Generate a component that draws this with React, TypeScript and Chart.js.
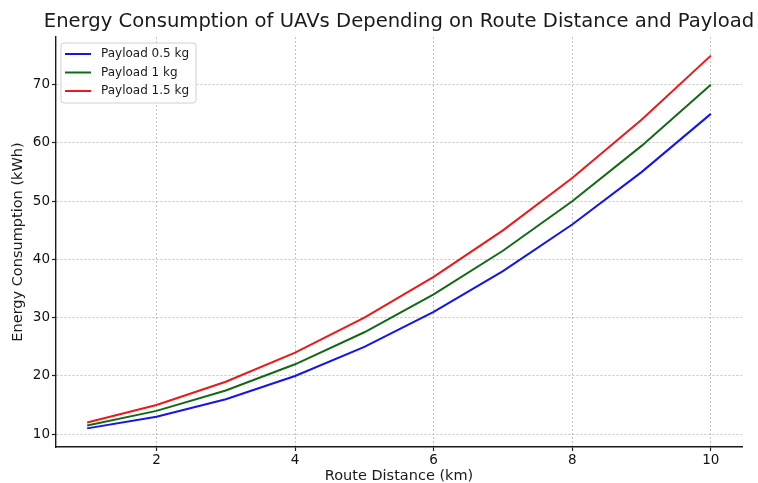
import React, { useEffect, useRef } from 'react';
import { Chart, registerables } from 'chart.js';

Chart.register(...registerables);

const chartTitle = 'Energy Consumption of UAVs Depending on Route Distance and Payload';
const xTitle = 'Route Distance (km)';
const yTitle = 'Energy Consumption (kWh)';
const distances = [1, 2, 3, 4, 5, 6, 7, 8, 9, 10];
const payload05 = [11, 13, 16, 20, 25, 31, 38, 46, 55, 65];
const payload1 = [11.5, 14, 17.5, 22, 27.5, 34, 41.5, 50, 59.5, 70];
const payload15 = [12, 15, 19, 24, 30, 37, 45, 54, 64, 75];
const seriesLabels = ['Payload 0.5 kg', 'Payload 1 kg', 'Payload 1.5 kg'];
const seriesColors = ['rgb(20,20,235)', 'rgb(20,105,20)', 'rgb(235,25,25)'];
const xTicks = [2, 4, 6, 8, 10];
const yTicks = [10, 20, 30, 40, 50, 60, 70];

const FONT = "'DejaVu Sans', sans-serif";

const titlePlugin = {
  id: 'mplTitle',
  afterDraw(chart: any) {
    const { ctx, chartArea } = chart;
    ctx.save();
    ctx.font = `19.6px ${FONT}`;
    ctx.fillStyle = '#1a1a1a';
    ctx.textAlign = 'center';
    ctx.textBaseline = 'middle';
    ctx.fillText(chartTitle, (chartArea.left + chartArea.right) / 2, 22);
    ctx.restore();
  },
};

const legendPlugin = {
  id: 'mplLegend',
  afterDraw(chart: any) {
    const { ctx, chartArea } = chart;
    const x0 = chartArea.left + 5;
    const y0 = chartArea.top + 6;
    const w = 135;
    const h = 60;
    ctx.save();
    ctx.beginPath();
    const r = 3;
    ctx.moveTo(x0 + r, y0);
    ctx.lineTo(x0 + w - r, y0);
    ctx.quadraticCurveTo(x0 + w, y0, x0 + w, y0 + r);
    ctx.lineTo(x0 + w, y0 + h - r);
    ctx.quadraticCurveTo(x0 + w, y0 + h, x0 + w - r, y0 + h);
    ctx.lineTo(x0 + r, y0 + h);
    ctx.quadraticCurveTo(x0, y0 + h, x0, y0 + h - r);
    ctx.lineTo(x0, y0 + r);
    ctx.quadraticCurveTo(x0, y0, x0 + r, y0);
    ctx.closePath();
    ctx.fillStyle = 'rgba(255,255,255,0.85)';
    ctx.fill();
    ctx.strokeStyle = '#d0d0d0';
    ctx.lineWidth = 1;
    ctx.stroke();
    ctx.font = `12px ${FONT}`;
    ctx.textAlign = 'left';
    ctx.textBaseline = 'middle';
    chart.data.datasets.forEach((ds: any, i: number) => {
      const y = y0 + 11 + i * 18.5;
      ctx.beginPath();
      ctx.moveTo(x0 + 4, y);
      ctx.lineTo(x0 + 30, y);
      ctx.strokeStyle = ds.borderColor;
      ctx.lineWidth = 2;
      ctx.stroke();
      ctx.fillStyle = '#1a1a1a';
      ctx.fillText(ds.label, x0 + 40, y);
    });
    ctx.restore();
  },
};

export default function App() {
  const ref = useRef<HTMLCanvasElement | null>(null);

  useEffect(() => {
    if (!ref.current) return;
    const series = [payload05, payload1, payload15];
    const chart = new Chart(ref.current, {
      type: 'line',
      data: {
        datasets: series.map((vals, i) => ({
          label: seriesLabels[i],
          data: distances.map((d, j) => ({ x: d, y: vals[j] })),
          borderColor: seriesColors[i],
          backgroundColor: seriesColors[i],
          borderWidth: 2,
          pointRadius: 0,
          tension: 0,
          fill: false,
        })),
      },
      options: {
        animation: false,
        responsive: false,
        maintainAspectRatio: false,
        devicePixelRatio: 1,
        layout: { padding: { left: 10, right: 16, top: 37, bottom: 0 } },
        plugins: {
          legend: { display: false },
          title: { display: false },
          tooltip: { enabled: false },
        },
        scales: {
          x: {
            type: 'linear',
            min: 0.55,
            max: 10.45,
            afterFit: (s: any) => { s.height = 36; },
            afterBuildTicks: (s: any) => { s.ticks = xTicks.map((v) => ({ value: v })); },
            grid: {
              color: '#c4c4c4',
              lineWidth: 1,
              tickColor: '#222',
              tickLength: 4,
              tickWidth: 1.2,
              tickBorderDash: [],
            },
            border: { display: true, color: '#1a1a1a', width: 1.4, dash: [2, 2] },
            ticks: {
              color: '#111',
              font: { family: FONT, size: 13.5 },
              padding: 1,
              maxRotation: 0,
              callback: (v: any) => String(v),
            },
            title: {
              display: true,
              text: xTitle,
              color: '#1a1a1a',
              font: { family: FONT, size: 14.5 },
              padding: { top: 0, bottom: -2 },
            },
          },
          y: {
            type: 'linear',
            min: 7.8,
            max: 78.2,
            afterFit: (s: any) => { s.width = 46; },
            afterBuildTicks: (s: any) => { s.ticks = yTicks.map((v) => ({ value: v })); },
            grid: {
              color: '#c4c4c4',
              lineWidth: 1,
              tickColor: '#222',
              tickLength: 4,
              tickWidth: 1.2,
              tickBorderDash: [],
            },
            border: { display: true, color: '#1a1a1a', width: 1.4, dash: [2, 2] },
            ticks: {
              color: '#111',
              font: { family: FONT, size: 13.5 },
              padding: 2,
              callback: (v: any) => String(v),
            },
            title: {
              display: true,
              text: yTitle,
              color: '#1a1a1a',
              font: { family: FONT, size: 14.5 },
              padding: { top: 0, bottom: 0 },
            },
          },
        },
      } as any,
      plugins: [titlePlugin, legendPlugin],
    });
    return () => chart.destroy();
  }, []);

  return (
    <div style={{ position: 'fixed', left: 0, top: 0, width: 758, height: 483, background: '#fff' }}>
      <canvas ref={ref} width={758} height={483} style={{ width: 758, height: 483, display: 'block' }} />
    </div>
  );
}
